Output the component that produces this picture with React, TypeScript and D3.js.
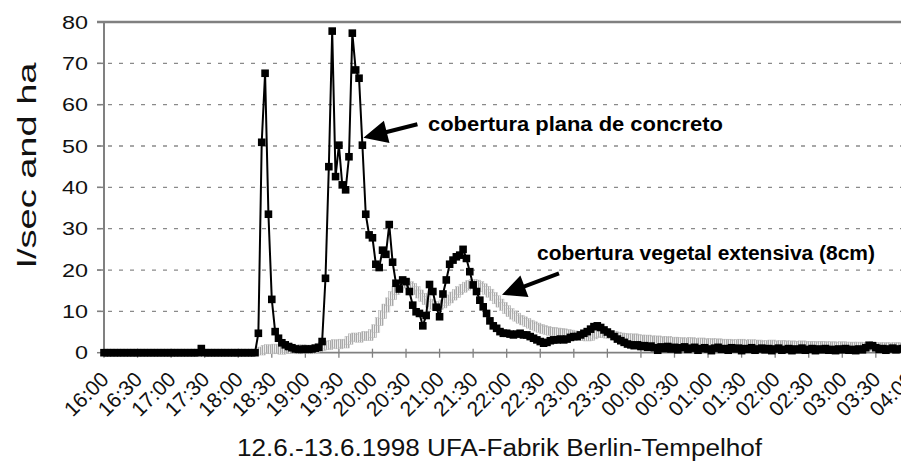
import React, { useEffect, useRef } from "react";
import * as d3 from "d3";

// readings every 3 minutes, 16:00 (12.6.) to 04:00 (13.6.)
const stepMinutes = 3;

const tickLabels = [
  "16:00", "16:30", "17:00", "17:30", "18:00", "18:30", "19:00", "19:30",
  "20:00", "20:30", "21:00", "21:30", "22:00", "22:30", "23:00", "23:30",
  "00:00", "00:30", "01:00", "01:30", "02:00", "02:30", "03:00", "03:30", "04:00"
];

const yTicks = [0, 10, 20, 30, 40, 50, 60, 70, 80];

// cobertura plana de concreto (l/sec and ha)
const concreto = [
  0, 0, 0, 0, 0, 0, 0, 0, 0, 0, 0, 0, 0, 0, 0, 0, 0, 0, 0, 0, 0, 0, 0, 0, 0, 0, 0, 0, 0, 1.0,
  0, 0, 0, 0, 0, 0, 0, 0, 0, 0, 0, 0, 0, 0, 0, 0,
  4.7, 50.9, 67.6, 33.5, 12.9, 5.1, 3.5, 2.4, 1.9, 1.5, 1.2, 0.9, 0.8, 0.8, 0.9, 0.8, 0.9, 1.1, 1.3, 2.7,
  18, 45, 77.8, 42.6, 50.2, 40.6, 39.4, 47.4, 77.3, 68.4, 66.4, 50.2, 33.5, 28.5, 27.8, 21.4, 20.6, 24.8, 23.8, 31,
  21.9, 16.8, 15.4, 17.6, 17.2, 14.8, 11.5, 9.9, 9.5, 6.5, 9, 16.5, 14.8, 11, 8.7, 14.2, 17.6, 21.4, 22.4, 23.2,
  23.6, 25, 22.8, 19.6, 16.4, 14.8, 12.7, 11.1, 9.5, 7.7, 6.5, 5.9, 5.1, 4.7, 4.7, 4.5, 4.3, 4.5, 4.7, 4.3,
  4.3, 3.9, 3.5, 3.1, 2.7, 2.3, 2.5, 2.9, 3.1, 3.1, 3.3, 3.1, 3.3, 3.7, 3.9, 3.9, 4.3, 4.7, 5.1, 5.7,
  6.3, 6.5, 6.1, 5.5, 5.0, 4.5, 3.9, 3.3, 2.9, 2.5, 2.1, 1.9, 1.7, 1.9, 1.5, 1.7, 1.3, 1.6, 1.2, 0.6,
  1.4, 1.0, 1.5, 0.9, 1.3, 0.7, 1.2, 1.4, 0.8, 1.1, 1.3, 0.6, 1.0, 1.2, 0.9, 0.5, 1.1, 1.3, 0.8, 1.0,
  0.6, 1.2, 0.9, 1.1, 0.5, 1.0, 0.8, 1.2, 0.6, 0.9, 1.1, 0.7, 1.0, 0.5, 0.9, 1.1, 0.6, 0.8, 1.0, 0.5,
  0.9, 0.7, 1.1, 0.6, 0.8, 1.0, 0.5, 0.9, 0.7, 1.0, 0.6, 0.8, 0.5, 0.9, 0.7, 1.0, 0.6, 0.8, 0.5, 0.9,
  0.7, 1.2, 1.8, 1.7, 1.2, 0.8, 1.0, 0.6, 0.9, 1.1, 0.7, 0.9, 1.0, 0.8, 1.0
];

// cobertura vegetal extensiva (8cm)
const vegetal = [
  0, 0, 0, 0, 0, 0, 0, 0, 0, 0, 0, 0, 0, 0, 0, 0, 0, 0, 0, 0, 0, 0, 0, 0,
  0, 0, 0, 0, 0, 0, 0, 0, 0, 0, 0, 0, 0, 0, 0, 0, 0, 0, 0, 0, 0, 0, 0,
  0.4, 0.8, 1.0, 0.7, 1.1, 0.9, 0.6, 1.0, 1.2, 0.8, 0.9, 0.7, 1.0, 0.8, 0.9, 0.7, 1.0, 1.2, 1.5, 1.9,
  1.7, 2.0, 2.2, 1.9, 2.3, 2.1, 3.0, 3.6, 3.8, 3.5, 3.9, 4.2, 3.9, 4.6, 5.8, 7.5, 9.2, 10.8, 12.3, 13.8,
  15.0, 16.0, 16.6, 16.8, 16.2, 15.8, 15.0, 14.2, 13.4, 12.6, 12.0, 11.5, 11.2, 11.4, 11.8, 12.4, 13.0, 13.7, 14.3, 15.0,
  15.6, 16.1, 16.5, 16.8, 16.6, 16.2, 15.7, 15.1, 14.4, 13.6, 12.8, 12.0, 11.2, 10.4, 9.7, 9.1, 8.6, 8.1, 7.7, 7.3,
  6.9, 6.5, 6.2, 5.9, 5.6, 5.4, 5.2, 5.1, 5.0, 4.9, 4.8, 4.6, 4.5, 4.3, 4.2, 4.0, 3.9, 3.8, 3.9, 4.3,
  4.6, 4.8, 4.6, 4.5, 4.4, 4.2, 4.0, 3.8, 3.7, 3.6, 3.5, 3.6, 3.4, 3.3, 3.2, 3.3, 3.1, 3.0, 3.1, 2.9,
  2.8, 3.0, 2.7, 2.8, 2.6, 2.7, 2.5, 2.6, 2.7, 2.4, 2.5, 2.6, 2.4, 2.3, 2.5, 2.2, 2.4, 2.3, 2.1, 2.3,
  2.2, 2.0, 2.2, 2.3, 2.1, 2.0, 2.2, 1.9, 2.1, 2.0, 1.8, 2.0, 2.1, 1.9, 1.8, 2.0, 1.9, 1.7, 1.9, 1.8,
  1.7, 1.9, 1.8, 1.6, 1.8, 1.7, 1.6, 1.8, 1.7, 1.5, 1.7, 1.6, 1.5, 1.7, 1.6, 1.4, 1.6, 1.5, 1.6, 1.4,
  1.5, 1.6, 1.5, 1.4, 1.5, 1.3, 1.5, 1.4, 1.3, 1.5, 1.4, 1.3, 1.4, 1.3
];

const labelConcreto = "cobertura plana de concreto";
const labelVegetal = "cobertura vegetal extensiva (8cm)";
const xTitle = "12.6.-13.6.1998 UFA-Fabrik Berlin-Tempelhof";
const yTitle = "l/sec and ha";

const font = "'Liberation Sans', Arial, sans-serif";

function arrowPath(tail: number[], tip: number[], headLen: number, headW: number, shaftW: number) {
  const dx = tip[0] - tail[0];
  const dy = tip[1] - tail[1];
  const len = Math.sqrt(dx * dx + dy * dy);
  const ux = dx / len, uy = dy / len;
  const px = -uy, py = ux;
  const bx = tip[0] - ux * headLen, by = tip[1] - uy * headLen;
  const pts = [
    [tail[0] + px * shaftW / 2, tail[1] + py * shaftW / 2],
    [bx + px * shaftW / 2, by + py * shaftW / 2],
    [bx + px * headW / 2, by + py * headW / 2],
    tip,
    [bx - px * headW / 2, by - py * headW / 2],
    [bx - px * shaftW / 2, by - py * shaftW / 2],
    [tail[0] - px * shaftW / 2, tail[1] - py * shaftW / 2]
  ];
  return "M" + pts.map(p => p[0].toFixed(1) + "," + p[1].toFixed(1)).join("L") + "Z";
}

export default function App() {
  const ref = useRef<SVGSVGElement>(null);

  useEffect(() => {
    const svg = d3.select(ref.current);
    svg.selectAll("*").remove();

    const left = 104, top = 22, bottom = 352.7, right = 909.4;
    const perTick = 30 / stepMinutes;
    const nSteps = (tickLabels.length - 1) * perTick;

    const x = d3.scaleLinear().domain([0, nSteps]).range([left, right]);
    const y = d3.scaleLinear().domain([0, 80]).range([bottom, top]);

    const defs = svg.append("defs");
    const pat = defs
      .append("pattern")
      .attr("id", "hatch")
      .attr("width", 2)
      .attr("height", 2)
      .attr("patternUnits", "userSpaceOnUse");
    pat.append("rect").attr("width", 2).attr("height", 2).attr("fill", "#eeeeee");
    pat.append("rect").attr("width", 1).attr("height", 2).attr("fill", "#a8a8a8");

    svg.append("rect").attr("width", 901).attr("height", 464).attr("fill", "#fff");

    // gridlines
    svg
      .append("g")
      .selectAll("line")
      .data(yTicks.filter(d => d > 0 && d < 80))
      .enter()
      .append("line")
      .attr("x1", left - 7)
      .attr("x2", right)
      .attr("y1", d => y(d))
      .attr("y2", d => y(d))
      .attr("stroke", "#8a8a8a")
      .attr("stroke-width", 1.3)
      .attr("stroke-dasharray", "4,7");

    // top border
    svg
      .append("line")
      .attr("x1", left - 7)
      .attr("x2", right)
      .attr("y1", y(80))
      .attr("y2", y(80))
      .attr("stroke", "#808080")
      .attr("stroke-width", 2.6);

    // y axis
    const yAxis = svg.append("g");
    yAxis
      .append("line")
      .attr("x1", left)
      .attr("x2", left)
      .attr("y1", top)
      .attr("y2", bottom)
      .attr("stroke", "#808080")
      .attr("stroke-width", 2);
    yAxis
      .selectAll("line.tick")
      .data(yTicks)
      .enter()
      .append("line")
      .attr("class", "tick")
      .attr("x1", left - 7)
      .attr("x2", left)
      .attr("y1", d => y(d))
      .attr("y2", d => y(d))
      .attr("stroke", "#808080")
      .attr("stroke-width", 1.5);
    yAxis
      .selectAll("text")
      .data(yTicks)
      .enter()
      .append("text")
      .attr("transform", d => `translate(88,${y(d) + 6.5}) scale(1.3,1)`)
      .attr("text-anchor", "end")
      .attr("font-family", font)
      .attr("font-size", 18)
      .attr("fill", "#111")
      .text(d => d);

    svg
      .append("text")
      .attr("transform", "translate(36,165) rotate(-90)")
      .attr("text-anchor", "middle")
      .attr("font-family", font)
      .attr("font-size", 26)
      .attr("textLength", 205)
      .attr("lengthAdjust", "spacingAndGlyphs")
      .attr("fill", "#111")
      .text(yTitle);

    // x axis
    const xAxis = svg.append("g");
    xAxis
      .append("line")
      .attr("x1", left)
      .attr("x2", right)
      .attr("y1", bottom)
      .attr("y2", bottom)
      .attr("stroke", "#808080")
      .attr("stroke-width", 1.8);
    const tickIdx = tickLabels.map((_, i) => i * perTick);
    xAxis
      .selectAll("line.tick")
      .data(tickIdx)
      .enter()
      .append("line")
      .attr("class", "tick")
      .attr("x1", d => x(d))
      .attr("x2", d => x(d))
      .attr("y1", bottom - 4)
      .attr("y2", bottom + 5)
      .attr("stroke", "#808080")
      .attr("stroke-width", 1.3);
    xAxis
      .selectAll("text")
      .data(tickLabels)
      .enter()
      .append("text")
      .attr("transform", (d, i) => `translate(${x(tickIdx[i]) + 6},${bottom + 28}) rotate(-45)`)
      .attr("text-anchor", "end")
      .attr("font-family", font)
      .attr("font-size", 21)
      .attr("fill", "#111")
      .text(d => d);

    svg
      .append("text")
      .attr("x", 237)
      .attr("y", 456)
      .attr("font-family", font)
      .attr("font-size", 23)
      .attr("textLength", 525)
      .attr("lengthAdjust", "spacingAndGlyphs")
      .attr("fill", "#111")
      .text(xTitle);

    const line = d3
      .line<number>()
      .x((d, i) => x(i))
      .y(d => y(d));

    // vegetal series (grey, hatched markers)
    const gVeg = svg.append("g");
    const vegPts = vegetal.map((v, i) => ({ v, i })).filter(d => d.i >= 47);
    gVeg
      .append("path")
      .attr("d", line(vegetal))
      .attr("fill", "none")
      .attr("stroke", "#b5b5b5")
      .attr("stroke-width", 1.2);
    gVeg
      .selectAll("rect")
      .data(vegPts)
      .enter()
      .append("rect")
      .attr("x", d => x(d.i) - 4)
      .attr("y", d => y(d.v) - 4)
      .attr("width", 8)
      .attr("height", 8)
      .attr("fill", "url(#hatch)")
      .attr("stroke", "#b8b8b8")
      .attr("stroke-width", 0.5);

    // concreto series (black squares)
    const gCon = svg.append("g");
    gCon
      .append("path")
      .attr("d", line(concreto))
      .attr("fill", "none")
      .attr("stroke", "#000")
      .attr("stroke-width", 2);
    gCon
      .selectAll("rect")
      .data(concreto)
      .enter()
      .append("rect")
      .attr("x", (d, i) => x(i) - 3.8)
      .attr("y", d => y(d) - 3.8)
      .attr("width", 7.6)
      .attr("height", 7.6)
      .attr("fill", "#000");

    // annotations
    const tip1 = [x(77.3), y(52)];
    const tip2 = [x(118.6), y(14)];
    svg
      .append("path")
      .attr("d", arrowPath([tip1[0] + 54, tip1[1] - 13.5], tip1, 24, 23, 4))
      .attr("fill", "#000");
    svg
      .append("path")
      .attr("d", arrowPath([tip2[0] + 57, tip2[1] - 21.5], tip2, 24, 23, 4))
      .attr("fill", "#000");

    svg
      .append("text")
      .attr("x", 428)
      .attr("y", 131)
      .attr("font-family", font)
      .attr("font-weight", "bold")
      .attr("font-size", 20)
      .attr("textLength", 295)
      .attr("lengthAdjust", "spacingAndGlyphs")
      .attr("fill", "#000")
      .text(labelConcreto);

    svg
      .append("text")
      .attr("x", 537)
      .attr("y", 260)
      .attr("font-family", font)
      .attr("font-weight", "bold")
      .attr("font-size", 20)
      .attr("textLength", 338)
      .attr("lengthAdjust", "spacingAndGlyphs")
      .attr("fill", "#000")
      .text(labelVegetal);
  }, []);

  return (
    <svg
      ref={ref}
      width={901}
      height={464}
      style={{ position: "absolute", left: 0, top: 0 }}
    />
  );
}
